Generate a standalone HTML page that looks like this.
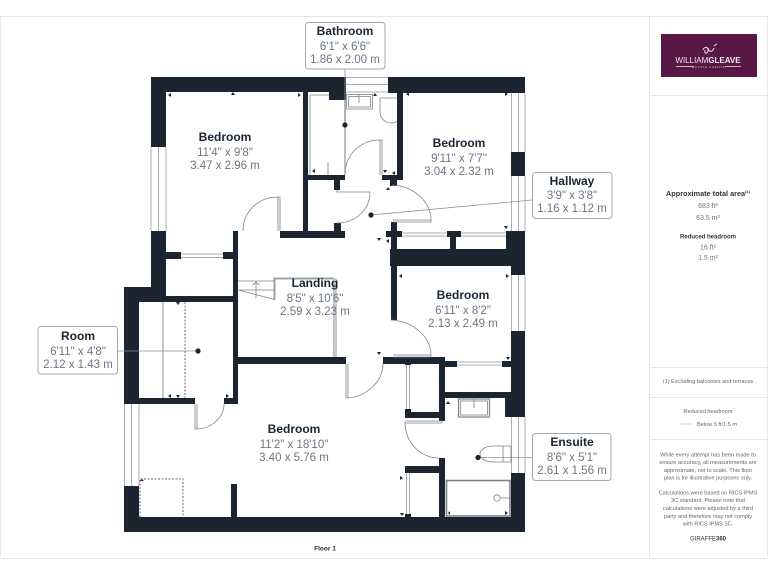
<!DOCTYPE html>
<html><head><meta charset="utf-8"><style>
html,body{margin:0;padding:0;background:#fff;width:768px;height:576px;overflow:hidden}
svg{display:block}
text{font-family:"Liberation Sans",sans-serif;text-anchor:middle}
.n{font-size:12px;font-weight:bold;fill:#1b2532}
.d{font-size:11.500px;fill:#6e7680}
.p{font-size:5.600px;fill:#666}
.a{font-size:7px;fill:#777}
.w{fill:#1b2532}
.g{fill:none;stroke:#a9adb2;stroke-width:1}
.k{fill:none;stroke:#7d838a;stroke-width:.8}
.b{fill:#fff;stroke:#a4a8ad;stroke-width:1}
.l{stroke:#8d9196;stroke-width:.8;fill:none}
</style></head><body>
<svg width="768" height="576" viewBox="0 0 768 576" xmlns="http://www.w3.org/2000/svg">
<!-- frame -->
<g fill="#e6e6e6">
<rect x="0" y="16" width="768" height="1"/><rect x="0" y="16" width="1" height="543"/><rect x="0" y="558" width="768" height="1"/>
<rect x="649" y="16" width="1" height="543"/><rect x="767" y="16" width="1" height="543"/>
<rect x="649" y="95" width="119" height="1"/><rect x="649" y="367" width="119" height="1"/><rect x="649" y="397" width="119" height="1"/><rect x="649" y="439" width="119" height="1"/>
</g>
<!-- windows -->
<g class="g">
<path d="M151 147V231M158.500 147V231M166 147V231"/>
<path d="M346 77.500H388M346 84.500H388M346 92H388"/>
<path d="M511.500 93V152M518.500 93V152M525 93V152M511.500 176V231M518.500 176V231M525 176V231"/>
<path d="M511.500 275V331M518.500 275V331M525 275V331M511.500 417V473M518.500 417V473M525 417V473"/>
<path d="M124.500 404V486M131.500 404V486M139 404V486"/>
<path d="M181 254H223M181 257.500H223"/>
<path d="M402 233H447M402 236H447M461 233H506M461 236H506"/>
<path d="M457 362H502M457 365H502"/>
<path d="M406.500 365V409M409.500 365V409M406.500 473V514M409.500 473V514"/>
</g>
<!-- walls -->
<g class="w">
<rect x="151" y="77" width="195" height="15"/><rect x="388" y="77" width="137" height="16"/>
<rect x="151" y="77" width="15" height="70"/><rect x="151" y="231" width="15" height="65"/>
<rect x="124" y="287" width="27" height="15"/><rect x="124" y="287" width="15" height="117"/>
<rect x="124" y="486" width="15" height="46"/><rect x="124" y="517" width="401" height="15"/>
<rect x="511" y="152" width="14" height="24"/>
<rect x="506" y="231" width="19" height="18"/><rect x="511" y="231" width="14" height="44"/>
<rect x="390" y="249" width="135" height="17"/><rect x="511" y="331" width="14" height="86"/>
<rect x="505" y="397" width="20" height="20"/><rect x="511" y="473" width="14" height="59"/>
<rect x="151" y="296" width="87" height="6"/><rect x="233" y="231" width="5" height="173"/>
<rect x="238" y="357" width="108" height="7"/><rect x="139" y="398" width="56" height="6"/><rect x="224" y="398" width="14" height="6"/>
<rect x="231" y="484" width="6" height="33"/>
<rect x="166" y="252" width="15" height="7"/><rect x="223" y="252" width="10" height="7"/>
<rect x="303" y="92" width="5" height="146"/><rect x="280" y="231" width="65" height="7"/>
<rect x="329" y="92" width="17" height="8"/><rect x="308" y="175" width="37" height="5"/><rect x="334" y="180" width="6" height="10"/><rect x="334" y="223" width="7" height="8"/>
<rect x="397" y="92" width="6" height="88"/><rect x="382" y="175" width="21" height="5"/><rect x="390" y="180" width="7" height="6"/>
<rect x="391" y="222" width="6" height="98"/><rect x="386" y="231" width="16" height="6"/>
<rect x="447" y="231" width="14" height="6"/><rect x="450" y="237" width="6" height="12"/>
<rect x="383" y="357" width="62" height="7"/><rect x="445" y="361" width="12" height="6"/><rect x="502" y="361" width="10" height="6"/>
<rect x="439" y="358" width="6" height="63"/><rect x="445" y="392" width="66" height="6"/>
<rect x="439" y="458" width="6" height="59"/><rect x="405" y="412" width="34" height="6"/><rect x="405" y="409" width="6" height="9"/>
<rect x="405" y="358" width="6" height="7"/><rect x="405" y="466" width="34" height="7"/><rect x="405" y="514" width="6" height="4"/>
</g>
<!-- doors -->
<g class="k">
<path d="M278 231V197H280V231M278 197C258 197 243 212 243 231"/>
<path d="M380 175V140H382V175M380 140C360 140 345 155 345 175"/>
<path d="M337 190V192H370M370 192C370 210 355 223 337 223"/>
<path d="M392 185C414 186 431 202 431 220M393 220H431V222H393"/>
<path d="M391 320C413 321 431 337 431 355M393 355H431V357H393"/>
<path d="M346 364V398H348V364M347 398C366 397 383 382 383 364"/>
<path d="M195 404V429H197V404M196 429C212 429 224 417 224 404"/>
<path d="M405 422C405 442 420 458 439 458M405 421H442V423H405"/>
</g>
<!-- fixtures -->
<g class="k">
<path d="M310 95V175M310 95H329M328 162V175"/>
<path d="M345 100V175" stroke="#a9adb2" stroke-width="1.600"/>
<rect x="346.500" y="94.500" width="26" height="14.500"/><rect x="348.500" y="96.500" width="22" height="10.500"/><path d="M359 94V103"/>
<path d="M380 98H397M380 98V112C380 119 386 123 391 123C394 123 396 122 397 121"/>
<rect x="458.500" y="399" width="31" height="18" stroke-width="1.200"/><rect x="460.500" y="401" width="27" height="14"/><path d="M474 399V408"/>
<path d="M511 446H493C485 446 480 450 480 454C480 458 485 462 493 462H511V446M503 446V462"/>
<rect x="446.500" y="480.500" width="63.500" height="35.500" stroke-width="1.600"/>
<circle cx="497" cy="498" r="3.200"/><path d="M500 498H510"/>
</g>
<!-- stairs -->
<g class="k">
<path d="M238 281H275M238 290H275M238 290L275 299.500M256 298V282M252.500 285.500L256 282L259.500 285.500"/>
<path d="M275 299.500V279H336V357M274 300V278H334" />
<path d="M334 282V357" stroke="#a9adb2" stroke-width="1.500"/>
</g>
<!-- room interior -->
<path d="M163 302V398" stroke="#8d9196" stroke-width="1" fill="none"/>
<path d="M185 302V398" stroke="#666c73" stroke-width="1" stroke-dasharray="2 1.500" fill="none"/>
<path d="M140 517V479H183V517" stroke="#666c73" stroke-width="1" stroke-dasharray="2 1.500" fill="none"/>
<!-- small ticks -->
<g class="w">
<path d="M233 92l-2 3h4zM168 95l3-2v4zM301 95l-3-2v4zM312 171l3-2v4zM375 93l-2 3h4zM385 173l-2-3h4zM392 173l3-2v4zM388 187l-2 3h4z"/>
<path d="M406 94l3-2v4zM508 94l-3-2v4zM506 229l-2-3h4zM379 241l-2-3h4zM386 241l3-2v4zM399 276l3-2v4zM509 276l-3-2v4zM379 355l-2-3h4zM508 360l-2-3h4zM448 401l-2 3h4zM403 478l-3-2v4zM402 516l-2-3h4zM448 513l2-2v4zM508 513l-3-2v4z"/>
<path d="M178 398l-2-3h4zM168 396l3-2v4zM229 396l-3-2v4zM178 305l-2-3 4 0zM142 479l-2 2h4z"/>
</g>
<!-- leaders -->
<g class="l">
<path d="M345 69V125"/>
<path d="M532 200L371 215"/>
<path d="M117 351H198"/>
<path d="M532 457.500H478"/>
</g>
<g class="w"><circle cx="345" cy="125" r="2.600"/><circle cx="371" cy="215" r="2.600"/><circle cx="198" cy="351" r="2.600"/><circle cx="478" cy="457.500" r="2.600"/></g>
<!-- callouts -->
<rect class="b" x="305.500" y="22.500" width="79.500" height="46.500" rx="3"/>
<rect class="b" x="532.500" y="172.500" width="79.500" height="46" rx="3"/>
<rect class="b" x="38" y="326.500" width="79.500" height="47.500" rx="3"/>
<rect class="b" x="532.500" y="433.500" width="78.500" height="47" rx="3"/>
<!-- labels -->
<text class="n" x="345" y="35">Bathroom</text><text class="d" x="345" y="50">6'1" x 6'6"</text><text class="d" x="345" y="63">1.86 x 2.00 m</text>
<text class="n" x="572" y="185">Hallway</text><text class="d" x="572" y="199">3'9" x 3'8"</text><text class="d" x="572" y="212">1.16 x 1.12 m</text>
<text class="n" x="78" y="340">Room</text><text class="d" x="78" y="355">6'11" x 4'8"</text><text class="d" x="78" y="368">2.12 x 1.43 m</text>
<text class="n" x="572" y="446">Ensuite</text><text class="d" x="572" y="461">8'6" x 5'1"</text><text class="d" x="572" y="474">2.61 x 1.56 m</text>
<text class="n" x="225" y="141">Bedroom</text><text class="d" x="225" y="156">11'4" x 9'8"</text><text class="d" x="225" y="169">3.47 x 2.96 m</text>
<text class="n" x="459" y="147">Bedroom</text><text class="d" x="459" y="162">9'11" x 7'7"</text><text class="d" x="459" y="175">3.04 x 2.32 m</text>
<text class="n" x="463" y="299">Bedroom</text><text class="d" x="463" y="314">6'11" x 8'2"</text><text class="d" x="463" y="327">2.13 x 2.49 m</text>
<text class="n" x="315" y="287">Landing</text><text class="d" x="315" y="302">8'5" x 10'6"</text><text class="d" x="315" y="315">2.59 x 3.23 m</text>
<text class="n" x="294" y="433">Bedroom</text><text class="d" x="294" y="448">11'2" x 18'10"</text><text class="d" x="294" y="461">3.40 x 5.76 m</text>
<text x="325" y="550.500" style="font-size:6.500px;font-weight:bold;fill:#1b2532">Floor 1</text>
<!-- logo -->
<rect x="661" y="34" width="96" height="43" fill="#581845"/>
<path d="M703 50c2-5 6-2 5 1s-4 3-3-1M708 48c1 4 4 5 6 0M714 46l3-2" fill="none" stroke="#f0e4ec" stroke-width="1"/>
<text x="708" y="63" style="font-size:8px;fill:#f3e8ef">WILLIAM<tspan font-weight="bold">GLEAVE</tspan></text>
<rect x="676" y="66" width="18" height="1" fill="#cbb2c3"/><rect x="725" y="66" width="16" height="1" fill="#cbb2c3"/>
<text x="709" y="68" style="font-size:2.500px;letter-spacing:1px;fill:#e3d3de">ESTATE AGENTS</text>
<!-- panel -->
<text x="708" y="196" style="font-size:7.300px;font-weight:bold;fill:#333">Approximate total area<tspan font-size="4" dy="-3">(1)</tspan></text>
<text class="a" x="708" y="208">683 ft²</text><text class="a" x="708" y="220">63.5 m²</text>
<text x="708" y="238.500" style="font-size:6px;font-weight:bold;fill:#333">Reduced headroom</text>
<text class="a" x="708" y="249.500">16 ft²</text><text class="a" x="708" y="260">1.5 m²</text>
<text class="p" x="708" y="383">(1) Excluding balconies and terraces</text>
<text class="p" x="708" y="413">Reduced headroom</text>
<path d="M681 424H693" stroke="#999" stroke-width=".8" stroke-dasharray="1.500 1" fill="none"/>
<text class="p" x="717" y="426">Below 5 ft/1.5 m</text>
<g>
<text class="p" x="708" y="456.500">While every attempt has been made to</text>
<text class="p" x="708" y="464">ensure accuracy, all measurements are</text>
<text class="p" x="708" y="472">approximate, not to scale. This floor</text>
<text class="p" x="708" y="479.500">plan is for illustrative purposes only.</text>
<text class="p" x="708" y="494.500">Calculations were based on RICS IPMS</text>
<text class="p" x="708" y="502">3C standard. Please note that</text>
<text class="p" x="708" y="510">calculations were adjusted by a third</text>
<text class="p" x="708" y="518">party and therefore may not comply</text>
<text class="p" x="708" y="525.500">with RICS IPMS 3C.</text>
</g>
<text x="708" y="540.500" style="font-size:6px;fill:#333">GIRAFFE<tspan font-weight="bold">360</tspan></text>
</svg>
</body></html>
